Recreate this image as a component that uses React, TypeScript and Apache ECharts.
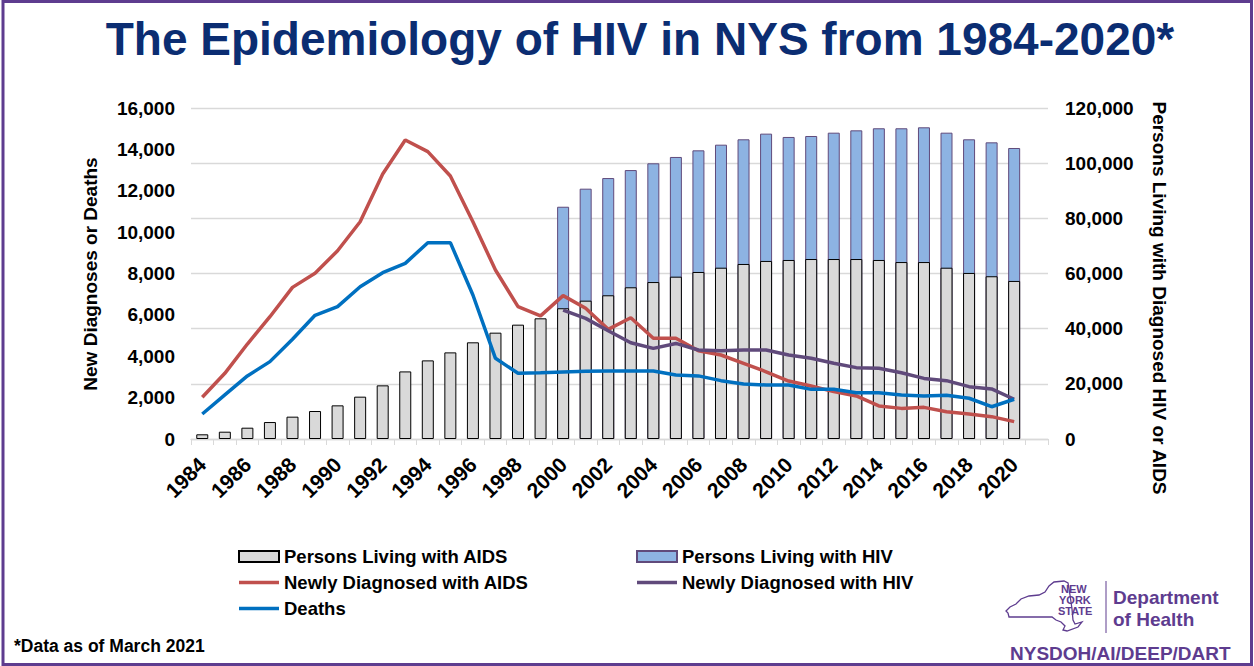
import React, { useEffect, useRef } from "react";
import * as echarts from "echarts";

const years = [
  "1984", "1985", "1986", "1987", "1988", "1989", "1990", "1991", "1992", "1993",
  "1994", "1995", "1996", "1997", "1998", "1999", "2000", "2001", "2002", "2003",
  "2004", "2005", "2006", "2007", "2008", "2009", "2010", "2011", "2012", "2013",
  "2014", "2015", "2016", "2017", "2018", "2019", "2020",
];

// Persons Living with AIDS (right axis)
const livingAids = [
  1700, 2650, 4100, 6150, 8100, 10150, 12200, 15350, 19450, 24500,
  28500, 31400, 35050, 38550, 41450, 43750, 47400, 50150, 52100, 55000,
  56900, 58850, 60550, 62100, 63450, 64550, 64900, 65250, 65250, 65250,
  64900, 64150, 64150, 62100, 60200, 59000, 57300,
];

// Persons Living with HIV (right axis, total incl. AIDS)
const livingHiv = [
  null, null, null, null, null, null, null, null, null, null,
  null, null, null, null, null, null, 84200, 90750, 94600, 97500,
  99950, 102250, 104650, 106700, 108650, 110700, 109500, 109850, 111050, 111900,
  112650, 112650, 113000, 111050, 108650, 107550, 105500,
];

// Newly Diagnosed with AIDS (left axis)
const newAids = [
  2015, 3175, 4590, 5910, 7330, 8010, 9100, 10500, 12810, 14450,
  13890, 12710, 10500, 8170, 6400, 5950, 6930, 6320, 5300, 5860,
  4870, 4870, 4270, 4060, 3660, 3250, 2800, 2560, 2290, 2080,
  1600, 1480, 1530, 1320, 1210, 1080, 840,
];

// Newly Diagnosed with HIV (left axis)
const newHiv = [
  null, null, null, null, null, null, null, null, null, null,
  null, null, null, null, null, null, 6230, 5830, 5230, 4650,
  4380, 4620, 4300, 4270, 4300, 4300, 4060, 3900, 3660, 3450,
  3420, 3200, 2930, 2820, 2530, 2420, 1920,
];

// Deaths (left axis)
const deaths = [
  1210, 2130, 3050, 3740, 4820, 5980, 6400, 7360, 8040, 8490,
  9490, 9490, 6960, 3900, 3175, 3200, 3240, 3270, 3290, 3290,
  3290, 3090, 3050, 2820, 2660, 2610, 2610, 2400, 2400, 2240,
  2240, 2130, 2080, 2110, 1970, 1560, 1920,
];

const FONT = '"Liberation Sans", Arial, Helvetica, sans-serif';
const PURPLE = "#5E3C8F";
const LINE_ICON = "path://M0,0 L40,0 L40,3.5 L0,3.5 Z";

const nyPath =
  "M0,31 L4,27 L10,24 L15,19 L23,16 L33,15 L39,12 L43,6 L48,2 L58,1 L62,3 L64,15 L66,29 L67,40 L69,44 L76,42 L72,47 L61,51 L57,50 L59,46 L55,42 L50,40 L46,37 L3,37 L2,33 Z";

export default function App() {
  const ref = useRef<HTMLDivElement>(null);

  useEffect(() => {
    if (!ref.current) return;
    echarts.graphic.registerShape("nymap", echarts.graphic.extendPath(nyPath, {}));
    const chart = echarts.init(ref.current, null, { renderer: "svg" });
    const fmt = (v: number) => v.toLocaleString("en-US");
    const categories = [...years, ""];
    const legendText = { fontSize: 18.5, fontWeight: "bold", color: "#000", lineHeight: 19, fontFamily: FONT };

    chart.setOption({
      animation: false,
      backgroundColor: "#ffffff",
      textStyle: { fontFamily: FONT },
      grid: { left: 191, right: 206, top: 108, bottom: 227, containLabel: false },
      xAxis: {
        type: "category",
        data: categories,
        boundaryGap: true,
        axisLine: { show: true, lineStyle: { color: "#d9d9d9", width: 1.3 } },
        axisTick: { show: true, interval: 0, length: 6, lineStyle: { color: "#d9d9d9" } },
        axisLabel: {
          interval: 1,
          rotate: 45,
          margin: 22,
          fontSize: 21,
          fontWeight: "bold",
          color: "#000",
          fontFamily: FONT,
        },
        splitLine: { show: false },
      },
      yAxis: [
        {
          type: "value",
          position: "left",
          min: 0,
          max: 16000,
          interval: 2000,
          axisLine: { show: false },
          axisTick: { show: false },
          splitLine: { show: false },
          axisLabel: {
            formatter: fmt,
            margin: 16,
            fontSize: 19,
            fontWeight: "bold",
            color: "#000",
            fontFamily: FONT,
          },
        },
        {
          type: "value",
          position: "right",
          min: 0,
          max: 120000,
          interval: 20000,
          axisLine: { show: false },
          axisTick: { show: false },
          splitLine: { show: true, lineStyle: { color: "#d9d9d9", width: 1.3 } },
          axisLabel: {
            formatter: fmt,
            margin: 17,
            fontSize: 19,
            fontWeight: "bold",
            color: "#000",
            fontFamily: FONT,
          },
        },
      ],
      legend: [
        {
          orient: "vertical",
          left: 233,
          top: 542,
          itemWidth: 40,
          itemHeight: 11,
          itemGap: 7,
          textStyle: legendText,
          data: [
            { name: "Persons Living with AIDS", icon: "rect" },
            { name: "Newly Diagnosed with AIDS", icon: LINE_ICON },
            { name: "Deaths", icon: LINE_ICON },
          ],
        },
        {
          orient: "vertical",
          left: 631,
          top: 542,
          itemWidth: 40,
          itemHeight: 11,
          itemGap: 7,
          textStyle: legendText,
          data: [
            { name: "Persons Living with HIV", icon: "rect" },
            { name: "Newly Diagnosed with HIV", icon: LINE_ICON },
          ],
        },
      ],
      series: [
        {
          name: "Persons Living with HIV",
          type: "bar",
          yAxisIndex: 1,
          data: livingHiv,
          barWidth: 12,
          barGap: "-100%",
          itemStyle: { color: "#8DB3E2", borderColor: "#604A7B", borderWidth: 1 },
        },
        {
          name: "Persons Living with AIDS",
          type: "bar",
          yAxisIndex: 1,
          data: livingAids,
          barWidth: 12,
          barGap: "-100%",
          itemStyle: { color: "#D9D9D9", borderColor: "#000000", borderWidth: 1 },
        },
        {
          name: "Newly Diagnosed with AIDS",
          type: "line",
          yAxisIndex: 0,
          data: newAids,
          symbol: "none",
          showSymbol: false,
          lineStyle: { color: "#C0504D", width: 3.5 },
          itemStyle: { color: "#C0504D" },
        },
        {
          name: "Newly Diagnosed with HIV",
          type: "line",
          yAxisIndex: 0,
          data: newHiv,
          symbol: "none",
          showSymbol: false,
          lineStyle: { color: "#604A7B", width: 3.5 },
          itemStyle: { color: "#604A7B" },
        },
        {
          name: "Deaths",
          type: "line",
          yAxisIndex: 0,
          data: deaths,
          symbol: "none",
          showSymbol: false,
          lineStyle: { color: "#0070C0", width: 3.5 },
          itemStyle: { color: "#0070C0" },
        },
      ],
      graphic: [
        {
          type: "rect",
          shape: { x: 3, y: 1.5, width: 1248.5, height: 663 },
          style: { fill: "none", stroke: PURPLE, lineWidth: 3 },
          silent: true,
        },
        {
          type: "text",
          x: 640,
          y: 38.5,
          style: {
            text: "The Epidemiology of HIV in NYS from 1984-2020*",
            font: `bold 46px ${FONT}`,
            fill: "#0B2D72",
            align: "center",
            verticalAlign: "middle",
          },
        },
        {
          type: "text",
          x: 90,
          y: 274,
          rotation: Math.PI / 2,
          style: {
            text: "New Diagnoses or Deaths",
            font: `bold 19px ${FONT}`,
            fill: "#000",
            align: "center",
            verticalAlign: "middle",
          },
        },
        {
          type: "text",
          x: 1159,
          y: 298,
          rotation: -Math.PI / 2,
          style: {
            text: "Persons Living with Diagnosed HIV or AIDS",
            font: `bold 19px ${FONT}`,
            fill: "#000",
            align: "center",
            verticalAlign: "middle",
          },
        },
        {
          type: "text",
          x: 14,
          y: 646,
          style: {
            text: "*Data as of March 2021",
            font: `bold 17.5px ${FONT}`,
            fill: "#000",
            align: "left",
            verticalAlign: "middle",
          },
        },
        {
          type: "nymap",
          x: 1006,
          y: 580,
          style: { fill: "none", stroke: PURPLE, lineWidth: 1.3 },
        },
        {
          type: "text",
          x: 1061,
          y: 589,
          style: { text: "NEW", font: `bold 11px ${FONT}`, fill: PURPLE, align: "left", verticalAlign: "middle" },
        },
        {
          type: "text",
          x: 1059,
          y: 600,
          style: { text: "YORK", font: `bold 11px ${FONT}`, fill: PURPLE, align: "left", verticalAlign: "middle" },
        },
        {
          type: "text",
          x: 1058,
          y: 611,
          style: { text: "STATE", font: `bold 11px ${FONT}`, fill: PURPLE, align: "left", verticalAlign: "middle" },
        },
        {
          type: "line",
          shape: { x1: 1106, y1: 581, x2: 1106, y2: 633 },
          style: { stroke: PURPLE, lineWidth: 1 },
        },
        {
          type: "text",
          x: 1113,
          y: 597.5,
          style: { text: "Department", font: `bold 19px ${FONT}`, fill: PURPLE, align: "left", verticalAlign: "middle" },
        },
        {
          type: "text",
          x: 1113,
          y: 619,
          style: { text: "of Health", font: `bold 19px ${FONT}`, fill: PURPLE, align: "left", verticalAlign: "middle" },
        },
        {
          type: "text",
          x: 1010,
          y: 653,
          style: { text: "NYSDOH/AI/DEEP/DART", font: `bold 19px ${FONT}`, fill: PURPLE, align: "left", verticalAlign: "middle" },
        },
      ],
    });

    return () => chart.dispose();
  }, []);

  return (
    <div
      ref={ref}
      style={{ position: "absolute", left: 0, top: 0, width: 1254, height: 666, background: "#fff" }}
    />
  );
}
